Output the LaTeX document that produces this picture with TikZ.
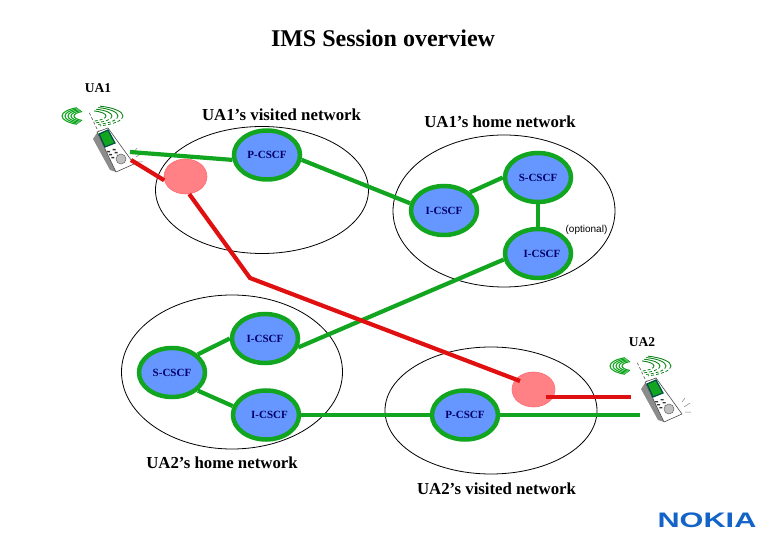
\documentclass[tikz,border=0pt]{standalone}
\usepackage{fontspec}
\setmainfont{Liberation Serif}
\newfontfamily\nokiafont{Liberation Sans}
\usetikzlibrary{shapes.geometric}
\definecolor{linegreen}{HTML}{12A520}
\definecolor{linered}{HTML}{E01010}
\definecolor{cscfblue}{HTML}{6696FF}
\definecolor{proxypink}{HTML}{FF8085}
\definecolor{logoblue}{HTML}{1464C8}
\tikzset{
	network/.style={draw=black,line width=0.8pt,ellipse,inner sep=0pt},
	cscf/.style={draw=linegreen,fill=cscfblue,line width=4.5pt,ellipse,inner sep=0pt,minimum width=66pt,minimum height=49pt,text=blue!40!black,font=\bfseries\fontsize{11}{11}\selectfont},
	proxy/.style={draw=proxypink!85!red,fill=proxypink,line width=0.6pt,ellipse,inner sep=0pt,minimum width=43pt,minimum height=35pt},
	title/.style={font=\bfseries\fontsize{16.8}{17}\selectfont},
	greenlink/.style={draw=linegreen,line width=4.2pt},
	redlink/.style={draw=linered,line width=4.2pt},
	phone/.pic={
		%Radio waves
		\foreach \r in {14,17,20,23,26}
			\draw[linegreen,line width=1.1pt] (-24-\r,-32) arc[start angle=180,end angle=115,x radius=\r,y radius=0.35*\r];
		\foreach \r in {14,17,20,23,26}
			\draw[linegreen,line width=1.1pt] (-24-\r,-32) arc[start angle=180,end angle=245,x radius=\r,y radius=0.35*\r];
		\foreach \r in {18,24,30,35}
			\draw[linegreen!80!black,line width=0.8pt,densely dashed] (-24+\r,-32) arc[start angle=0,end angle=70,x radius=\r,y radius=0.3*\r];
		\foreach \r in {18,24,30,35}
			\draw[linegreen!80!black,line width=0.9pt] (-24+\r,-32) arc[start angle=0,end angle=-70,x radius=\r,y radius=0.3*\r];
		%Antenna
		\draw[black!60,line width=0.7pt,densely dashed] (-15,-19) -- (-23,-36);
		%Handset
		\fill[black!45] (-19,-9) -- (-13,-18) -- (4,24) -- (-2,22) -- cycle;
		\draw[black!70,fill=white,line width=0.6pt] (-15,-16) -- (-4,-20) -- (22,16) -- (4,24) -- cycle;
		\draw[black!60!blue!70!green,fill=linegreen,line width=1.2pt] (-13,-14) -- (-4,-18) -- (3,-5) -- (-7,-1) -- cycle;
		\foreach \i in {0,1,2}
			\fill[black!80] (-5+2.2*\i,3+3*\i) rectangle ++(3,1.3) (0.5+2.2*\i,1+3*\i) rectangle ++(3,1.3);
		\draw[black!60,fill=black!25,line width=0.5pt] (9,11) circle (5);
		\draw[black!50,line width=0.5pt] (24,9) -- (30,5) (25,14) -- (31,14) (22,4) -- (25,0);
	}
}
\begin{document}
\begin{tikzpicture}[x=1pt,y=-1pt]
	\useasboundingbox (0,0) rectangle (780,540);
	
	%Networks
	\node[network,minimum width=213pt,minimum height=127pt] (visitedA) at (262,190) {};
	\node[network,minimum width=222pt,minimum height=152pt] (homeA) at (504,211) {};
	\node[network,minimum width=221pt,minimum height=154pt] (homeB) at (232,372) {};
	\node[network,minimum width=212pt,minimum height=127pt] (visitedB) at (491,410.5) {};
	
	%CSCF nodes
	\node[cscf] (pcscfA) at (267,155) {P-CSCF\hspace{10pt}};
	\node[cscf] (scscfA) at (538,177.5) {S-CSCF\hspace{4pt}};
	\node[cscf] (icscfA) at (444,210.5) {I-CSCF\hspace{10pt}};
	\node[cscf] (tcscfA) at (538,253.5) {\hspace{8pt}I-CSCF};
	\node[cscf] (icscfB) at (265,338.5) {I-CSCF\hspace{3pt}};
	\node[cscf] (scscfB) at (172,372.5) {S-CSCF\hspace{10pt}};
	\node[cscf] (tcscfB) at (266,415) {\hspace{7pt}I-CSCF};
	\node[cscf] (pcscfB) at (465,415) {P-CSCF};
	
	%Red ellipses
	\node[proxy] (proxyA) at (185.5,176.5) {};
	\node[proxy] (proxyB) at (533.5,389.5) {};
	
	%Phones
	\pic at (112,148) {phone};
	\pic at (660,398) {phone};
	
	%Marking coordinates
	\coordinate (ua1green) at (130,152);
	\coordinate (ua1red) at (131,160);
	\coordinate (turn) at (250,278);
	\coordinate (proxyBin) at (520,381);
	\coordinate (proxyBout) at (546,397);
	\coordinate (ua2red) at (631,397);
	\coordinate (ua2green) at (640,415);
	
	%Green path
	\draw[greenlink] (ua1green) -- (pcscfA.188);
	\draw[greenlink] (pcscfA.-8) -- (icscfA.168);
	\draw[greenlink] (icscfA.35) -- (scscfA.180);
	\draw[greenlink] (scscfA) -- (tcscfA);
	\draw[greenlink] (tcscfA.190) -- (icscfB.-15);
	\draw[greenlink] (icscfB.180) -- (scscfB.35);
	\draw[greenlink] (scscfB.-35) -- (tcscfB.165);
	\draw[greenlink] (tcscfB) -- (pcscfB);
	\draw[greenlink] (pcscfB) -- (ua2green);
	
	%Red path
	\draw[redlink] (ua1red) -- (proxyA.190);
	\draw[redlink] (proxyA.-78) -- (turn) -- (proxyBin);
	\draw[redlink] (proxyBout) -- (ua2red);
	
	%Labels
	\node[font=\bfseries\fontsize{24}{24}\selectfont] (heading) at (383,38) {IMS Session overview};
	\node[font=\bfseries\fontsize{13.5}{14}\selectfont] (ua1) at (98,88) {UA1};
	\node[font=\bfseries\fontsize{13.5}{14}\selectfont] (ua2) at (642,342) {UA2};
	\node[title] (visitedAlabel) at (281.5,115) {UA1's visited network};
	\node[title] (homeAlabel) at (500,122) {UA1’s home network};
	\node[title] (homeBlabel) at (222,463) {UA2’s home network};
	\node[title] (visitedBlabel) at (496.5,489) {UA2’s visited network};
	\node[font=\nokiafont\fontsize{10}{10}\selectfont,inner sep=0pt] (optional) at (586.5,230) {(optional)};
	\node[font=\nokiafont\bfseries\fontsize{21}{21}\selectfont,text=logoblue,transform shape,xscale=1.46] (nokia) at (707,520.5) {NOKIA};
\end{tikzpicture}
\end{document}
